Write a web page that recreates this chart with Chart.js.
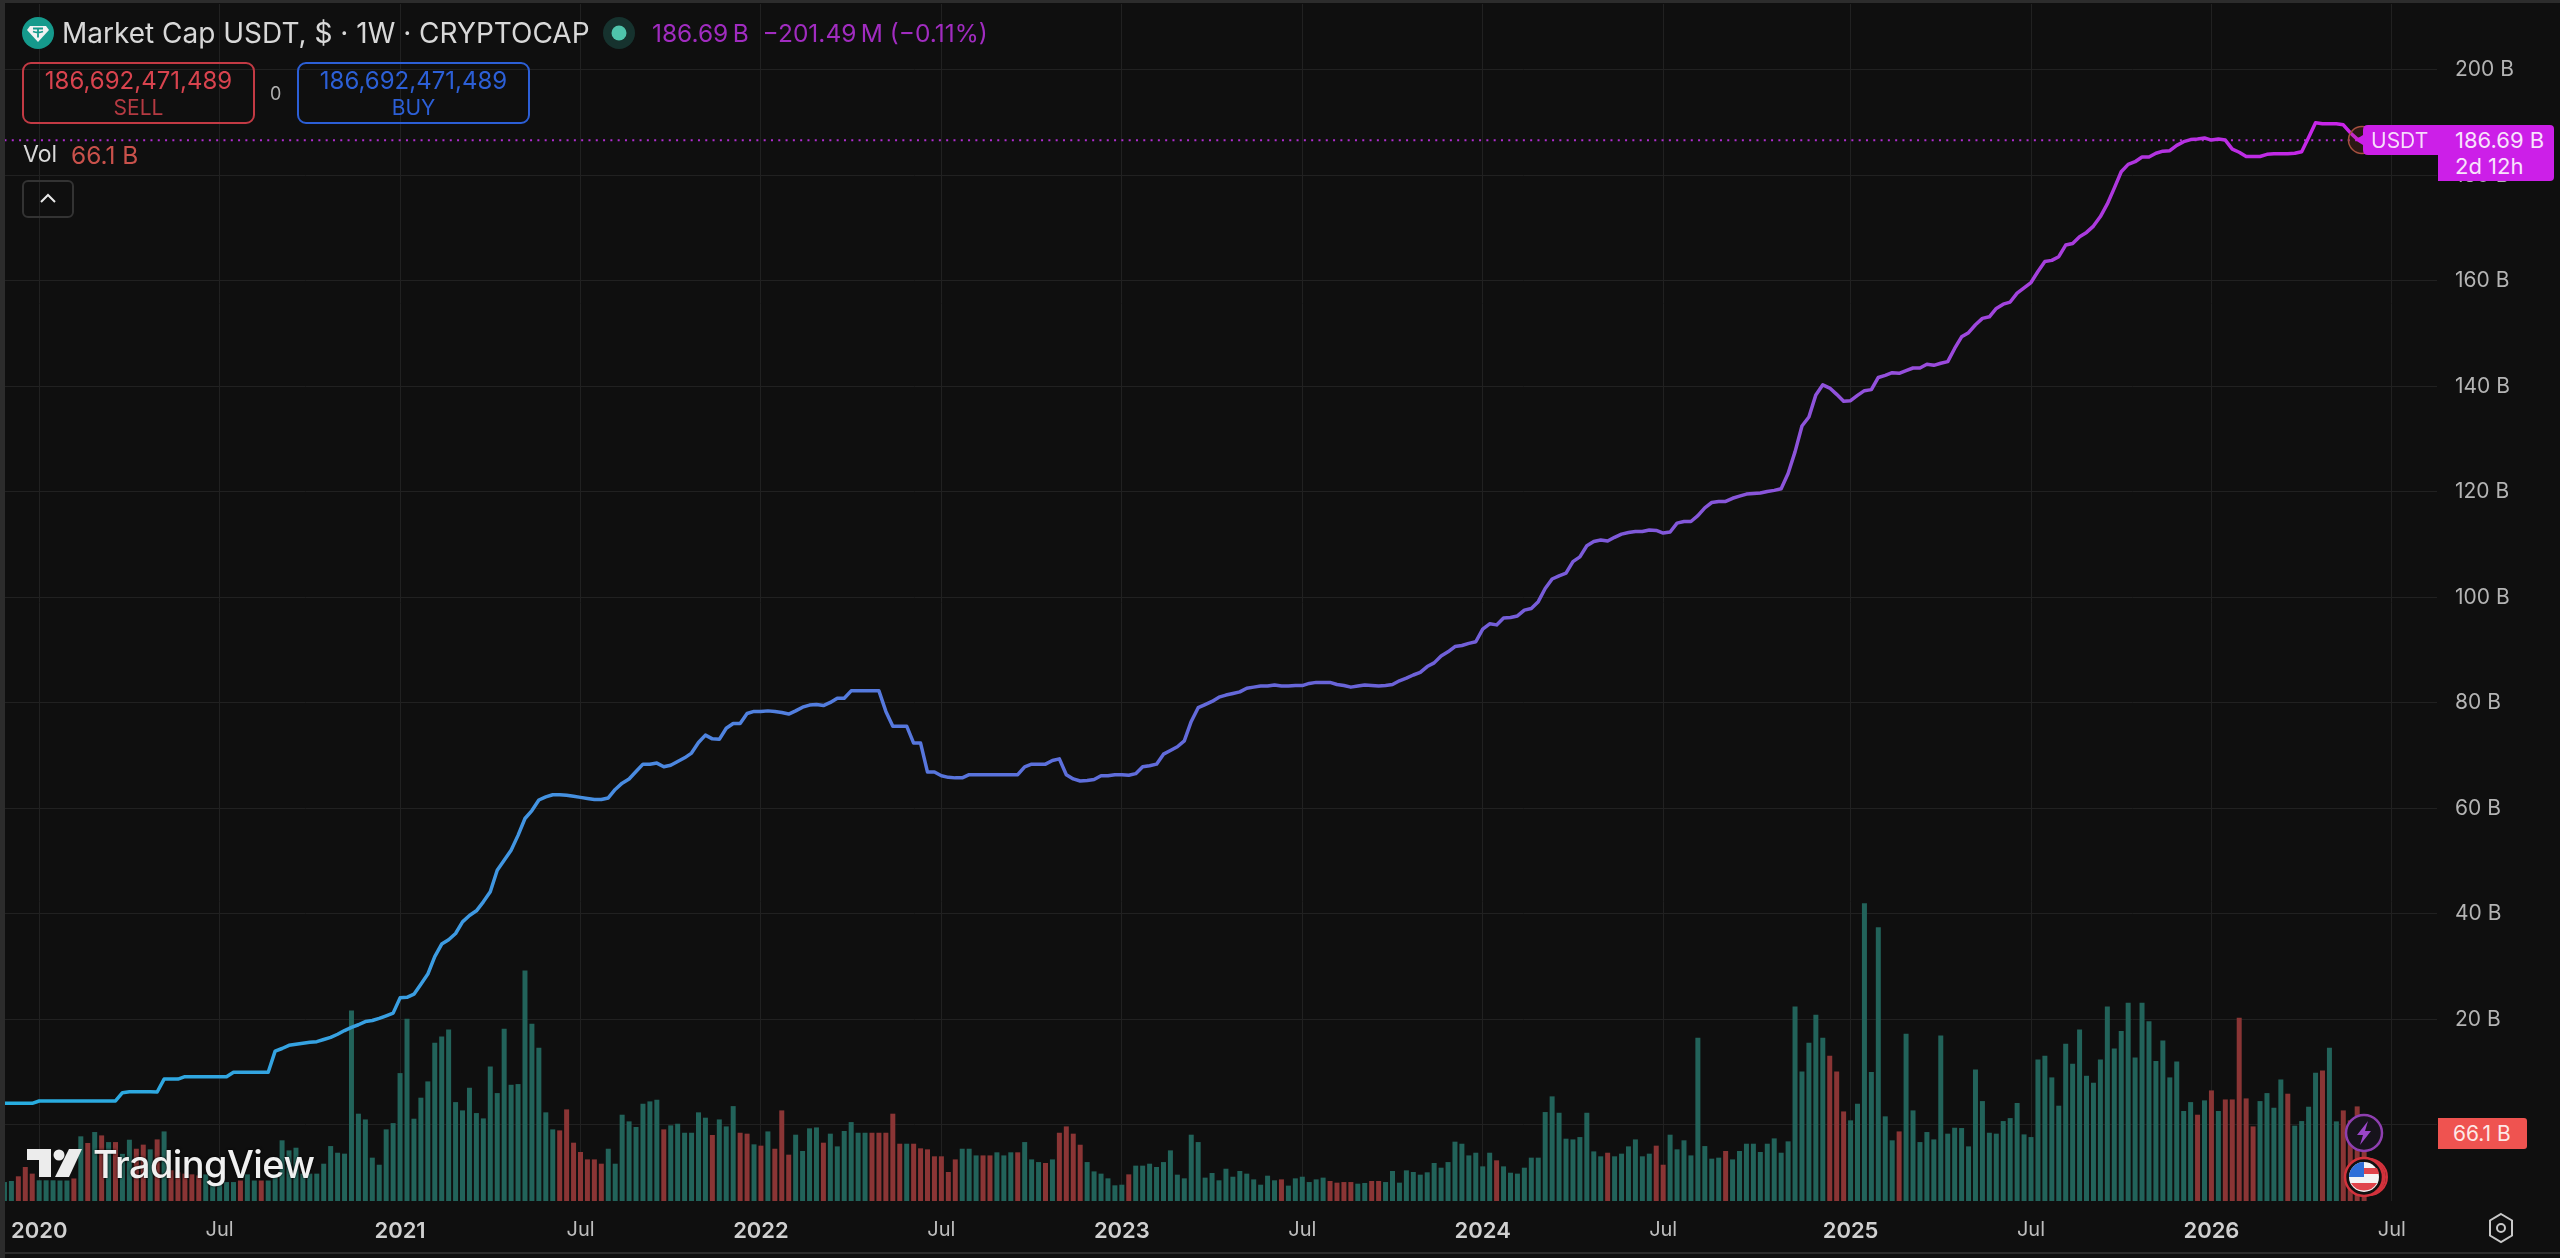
<!DOCTYPE html>
<html>
<head>
    <title>Market Cap USDT</title>
    <script src="https://cdn.jsdelivr.net/npm/chart.js"></script>
    <style>
        html, body { margin: 0; background: #0f0f0f; overflow: hidden; }
        #wrap { position: relative; width: 2560px; height: 1258px; font-family: Inter, sans-serif; }
        canvas { position: absolute; left: 0; top: 0; }
        .t { position: absolute; white-space: nowrap; line-height: 1; }
        .box { position: absolute; box-sizing: border-box; }
        svg { position: absolute; overflow: visible; }
    </style>
</head>
<body>
<div id="wrap">
    <canvas id="mainChart" width="2560" height="1258"></canvas>

    <div class="box" style="left:0;top:0;width:2560px;height:3px;background:#2c2c2c"></div>
    <div class="box" style="left:0;top:0;width:5px;height:1258px;background:#2c2c2c"></div>
    <div class="box" style="left:0;top:1252px;width:2560px;height:2px;background:#2c2c2c"></div>

    <!-- legend row -->
    <svg style="left:22px;top:17px" width="32" height="32" viewBox="0 0 32 32">
        <circle cx="16" cy="16" r="16" fill="#159a8c"/>
        <path d="M8 9h16l3 4-11 12L5 13z" fill="#f2f2f2"/>
        <path d="M11 11.5h10M16 11.5v9M11 14.5c3 1.2 7 1.2 10 0" stroke="#159a8c" stroke-width="1.8" fill="none"/>
    </svg>
    <div class="t" style="left:62px;top:19px;font-size:28px;color:#d8d8d8">Market Cap USDT, $ · 1W · CRYPTOCAP</div>
    <svg style="left:603px;top:17px" width="32" height="32">
        <circle cx="16" cy="16" r="16" fill="#16322e"/>
        <circle cx="16" cy="16" r="7.500" fill="#4fc4ab"/>
    </svg>
    <div class="t" style="left:652px;top:21px;font-size:24.500px;color:#a12cc0">186.69&#8201;B &nbsp;−201.49&#8201;M (−0.11%)</div>

    <!-- order buttons -->
    <div class="box" style="left:22px;top:62px;width:233px;height:62px;border:2px solid #c23a44;border-radius:9px"></div>
    <div class="t" style="left:22px;width:233px;text-align:center;top:69px;font-size:24px;color:#d8434e">186,692,471,489</div>
    <div class="t" style="left:22px;width:233px;text-align:center;top:97px;font-size:21px;color:#b53a42">SELL</div>
    <div class="t" style="left:270px;top:85px;font-size:18px;color:#b0b0b0">0</div>
    <div class="box" style="left:297px;top:62px;width:233px;height:62px;border:2px solid #2c5fd6;border-radius:9px"></div>
    <div class="t" style="left:297px;width:233px;text-align:center;top:69px;font-size:24px;color:#2c5fd6">186,692,471,489</div>
    <div class="t" style="left:297px;width:233px;text-align:center;top:97px;font-size:21px;color:#2c5fd6">BUY</div>

    <div class="t" style="left:23px;top:143px;font-size:23px;color:#d8d8d8">Vol</div>
    <div class="t" style="left:71px;top:143px;font-size:24.500px;color:#c9514b">66.1 B</div>
    <div class="box" style="left:22px;top:180px;width:52px;height:38px;border:2px solid #333;border-radius:6px"></div>
    <svg style="left:39px;top:192px" width="18" height="12"><path d="M2 10L9 3l7 7" stroke="#e8e8e8" stroke-width="2" fill="none"/></svg>

    <!-- watermark -->
    <svg style="left:27px;top:1149px" width="56" height="30" viewBox="0 0 56 30">
        <path d="M0 0h24v28H12V11H0z" fill="#ececec"/>
        <circle cx="32" cy="6" r="5.500" fill="#ececec"/>
        <path d="M42 0h13L42 28H28z" fill="#ececec"/>
    </svg>
    <div class="t" style="left:93px;top:1145px;font-size:38px;font-weight:500;letter-spacing:-.6px;color:#f0f0f0;text-shadow:0 0 3px #000">TradingView</div>

    <!-- last price tags -->
    <svg style="left:2345px;top:122px" width="36" height="36">
        <circle cx="17" cy="18" r="13.500" fill="rgba(180,70,50,.18)" stroke="#a5503f" stroke-width="1.500"/>
    </svg>
    <svg style="left:2354px;top:125px" width="84" height="30">
        <path d="M14 0h70v30H14q-5 0-5-5v-5L1 15l8-5V5q0-5 5-5z" fill="#cc1fe8"/>
    </svg>
    <div class="t" style="left:2371px;top:130px;font-size:21px;color:#f7dcfb">USDT</div>
    <div class="box" style="left:2438px;top:125px;width:116px;height:56px;background:#cc1fe8;border-radius:0 4px 4px 0"></div>
    <div class="t" style="left:2455px;top:129px;font-size:22px;color:#f9e3fc">186.69 B</div>
    <div class="t" style="left:2455px;top:155px;font-size:22px;color:#f9e3fc">2d 12h</div>

    <div class="box" style="left:2438px;top:1118px;width:89px;height:31px;background:#ef5350;border-radius:0 3px 3px 0"></div>
    <div class="t" style="left:2453px;top:1123px;font-size:21px;color:#fde8e7">66.1 B</div>

    <!-- event markers -->
    <svg style="left:2344px;top:1113px" width="40" height="40">
        <circle cx="20" cy="20" r="18" fill="#17131c" stroke="#8e3fb0" stroke-width="2.500"/>
        <path d="M24 8L13 22h6l-3 10 11-14h-6z" fill="#9a45c8"/>
    </svg>
    <svg style="left:2342px;top:1156px" width="48" height="42">
        <circle cx="27" cy="21" r="18" fill="none" stroke="#d3323c" stroke-width="2"/>
        <circle cx="25" cy="21" r="18" fill="none" stroke="#d3323c" stroke-width="2"/>
        <circle cx="22" cy="21" r="19" fill="#111" stroke="#d3323c" stroke-width="2.500"/>
        <circle cx="22" cy="21" r="15" fill="#f4f4f4"/>
        <path d="M9 27h26a15 15 0 0 1-26 0z" fill="#e0454c"/>
        <path d="M22 12h13a15 15 0 0 1 2 6H22z" fill="#e0454c"/>
        <path d="M22 6a15 15 0 0 0-15 15h15z" fill="#2f6fd8"/>
    </svg>

    <svg style="left:2487px;top:1212px" width="28" height="32" viewBox="0 0 28 32">
        <path d="M14 2l11 6.500L25 23.500 14 30 3 23.500 3 8.500z" fill="none" stroke="#c8c8c8" stroke-width="2"/>
        <circle cx="14" cy="16" r="4" fill="none" stroke="#c8c8c8" stroke-width="2"/>
    </svg>
</div>
<script>
    // weekly candles, first one opens 2 Dec 2019
    const firstWeek = '2019-12-02';
    const weekCount = 351;

    // market cap close, billions of USD
    const closes = [
        4.1,4.1,4.1,4.1,4.1,4.55,4.55,4.55,4.55,4.55,
        4.55,4.55,4.55,4.55,4.55,4.55,4.55,6.13,6.3,6.3,
        6.3,6.3,6.25,8.7,8.7,8.7,9.16,9.16,9.16,9.16,
        9.16,9.16,9.15,10,10,10,10,10,10,14,
        14.5,15.1,15.3,15.5,15.7,15.8,16.2,16.6,17.2,17.9,
        18.5,19,19.6,19.8,20.2,20.7,21.2,24.1,24.2,24.8,
        26.7,28.6,31.9,34.3,35.1,36.3,38.5,39.7,40.6,42.3,
        44.2,48.3,50.2,52.1,54.9,58.1,59.6,61.6,62.2,62.6,
        62.6,62.5,62.3,62.1,61.9,61.7,61.7,62,63.6,64.8,
        65.6,67,68.4,68.4,68.6,67.9,68.2,68.9,69.6,70.5,
        72.5,73.9,73.2,73.1,75.2,76.1,76.1,78,78.4,78.4,
        78.5,78.4,78.2,77.9,78.5,79.2,79.6,79.7,79.5,80.1,
        80.9,80.9,82.3,82.3,82.3,82.3,82.3,78.4,75.6,75.6,
        75.6,72.4,72.4,66.9,66.9,66.2,65.9,65.8,65.8,66.4,
        66.4,66.4,66.4,66.4,66.4,66.4,66.4,67.9,68.4,68.4,
        68.4,69.1,69.4,66.4,65.6,65.2,65.3,65.5,66.2,66.2,
        66.4,66.4,66.3,66.6,67.9,68.1,68.4,70.3,71,71.7,
        72.8,76.5,79.1,79.7,80.3,81.1,81.5,81.8,82.1,82.8,
        83,83.2,83.2,83.4,83.2,83.2,83.3,83.3,83.7,83.9,
        83.9,83.9,83.5,83.3,83,83.2,83.4,83.3,83.2,83.3,
        83.5,84.2,84.7,85.3,85.8,86.9,87.6,88.9,89.7,90.7,
        90.9,91.3,91.6,94,95,94.8,96.1,96.2,96.5,97.6,
        97.9,99.2,101.7,103.5,104.1,104.6,106.8,107.7,109.8,110.6,
        110.9,110.7,111.4,112,112.3,112.5,112.5,112.8,112.7,112.2,
        112.4,114.1,114.4,114.4,115.5,117,118,118.2,118.2,118.8,
        119.2,119.6,119.7,119.8,120.1,120.3,120.6,123.5,127.6,132.5,
        134.2,138.4,140.3,139.7,138.5,137.2,137.3,138.3,139.2,139.4,
        141.7,142.1,142.6,142.5,143,143.5,143.5,144.2,144,144.4,
        144.7,147.2,149.4,150.2,151.7,152.9,153.2,154.8,155.6,156,
        157.7,158.7,159.7,161.8,163.7,163.9,164.6,166.8,167.1,168.4,
        169.2,170.4,172.2,174.6,177.6,180.7,182.1,182.6,183.5,183.5,
        184.2,184.6,184.7,185.7,186.4,186.8,186.9,187.1,186.7,186.9,
        186.7,185,184.4,183.6,183.6,183.6,184,184.1,184.1,184.1,
        184.2,184.5,187.2,190,189.8,189.8,189.8,189.6,188.1,186.89,
        186.69
    ];

    // traded volume, billions of USD
    const volumes = [
        18.5,19.5,24.1,33.2,26.7,20.2,20.2,20.2,20,20,
        22,63.1,56.6,67.3,64,57.5,57.5,46,59.8,51,
        55,50.4,60.1,67.9,30,28,26.7,26,25,26,
        17,17,18.5,18.5,20,26,20,20,20,26,
        59.2,49.4,52,26.7,26.7,26.7,36.4,53.6,47.1,46.2,
        185.9,85.2,79.6,42.3,35.4,69.9,76,124.8,177.8,80.3,
        100.8,116.7,154.4,160.6,167.4,96.5,88.4,110.5,85.8,80.6,
        131.3,105.3,168,113.4,114.1,224.9,172.9,149.5,86.5,69.9,
        68.9,89.4,56.9,47.8,40.6,40.6,36.4,51,36.4,84.2,
        77.7,72.2,94.9,97.2,98.8,69.9,73.8,75.4,66.6,66.6,
        86.5,81.3,64.4,79.6,72.8,92.6,66.6,65.7,55.3,54,
        67.9,51,88.4,45.2,64.7,48.8,70.9,71.8,56.9,65.7,
        53.3,68.3,77,66.6,66.6,66.6,66.6,66.6,85.2,55.9,
        55.9,55.9,51.4,50.4,43.6,43.6,28.3,40.6,51,51,
        44.5,44.5,44.5,47.5,44.5,47.5,47.5,57.5,40.6,38,
        37.1,40.6,66.6,72.8,65.7,54.9,38,28.9,26.7,22.1,
        15.3,15.9,26,34.5,34.5,36.4,33.2,38,49.4,25.7,
        22.1,64.7,57.5,22.8,27.3,20.2,31.5,23.7,29.3,26.7,
        21.1,15.9,24.7,20.2,21.1,15,22.1,23.7,18.5,21.1,
        22.8,19.5,17.9,18.5,18.5,16.9,17.6,19.5,19.5,18.5,
        29.3,17.9,29.9,28.3,25.7,28,37.1,32.5,38,57.9,
        55.9,44.5,47.1,33.8,47.1,39.7,33.8,27.6,26.7,32.5,
        42.3,42.3,86.8,102.1,86.1,60.8,60.1,62.4,86.1,48.4,
        43.6,47.1,43.6,46.2,53.3,60.1,43.6,46.2,54,35.4,
        64.7,50.4,59.2,44.5,159.3,53.6,41.3,42.3,48.8,40.6,
        48.8,55.9,55.9,47.8,55.9,61.1,47.1,58.2,189.8,126.4,
        154.4,181.7,159.3,141.7,126.4,87.4,78.7,94.9,290.6,125.8,
        267.2,82.6,59.2,67.9,163.2,88.4,57.5,67.3,60.1,161.5,
        65.7,71.5,71.2,53.3,128.4,97.5,66.6,65.7,78,80.9,
        95.6,65,62.4,138.1,141.7,120.6,93,153.4,133.9,167.4,
        122.2,115.4,138.1,189.8,148.9,165.8,193.4,140.1,193.4,175.5,
        136.5,156.7,120.6,136.2,87.8,96.5,84.2,98.2,107.9,87.8,
        99.1,99.1,178.8,100.1,72.8,97.5,105.3,91,118.6,104.7,
        73.5,78,92,125.1,127.4,149.5,77.7,88.4,78.7,92.3,
        66.1
    ];

    // weeks that printed a red volume bar
    const downWeeks = [
        2,3,4,10,12,14,16,19,20,22,24,25,26,27,28,34,37,
        80,81,82,83,84,85,86,95,102,106,107,109,111,112,113,118,
        125,126,127,128,129,131,132,133,134,135,136,137,141,142,146,150,
        152,153,154,155,162,184,191,192,193,194,197,198,215,231,238,239,248,
        263,264,265,273,316,318,320,321,322,323,324,329,334,337,338,339,340
    ];

    const priceTicks = [0, 20, 40, 60, 80, 100, 120, 140, 160, 180, 200];
    const lastClose = closes[closes.length - 1];

    const weeks = [];
    for (let i = 0; i < weekCount; i++) {
        const d = new Date(firstWeek + 'T00:00:00Z');
        d.setUTCDate(d.getUTCDate() + i * 7);
        weeks.push(d);
    }

    // first week of January gets the year, first week of July gets "Jul"
    function weekLabel(d) {
        if (d.getUTCDate() > 7) return '';
        if (d.getUTCMonth() === 0) return String(d.getUTCFullYear());
        if (d.getUTCMonth() === 6) return 'Jul';
        return '';
    }

    let lineGradient = null;
    function lineColor(ctx) {
        const area = ctx.chart.chartArea;
        if (!area) return '#5b6fe0';
        if (!lineGradient) {
            lineGradient = ctx.chart.ctx.createLinearGradient(area.left, 0, area.left + 2365, 0);
            lineGradient.addColorStop(0, '#27aee0');
            lineGradient.addColorStop(0.17, '#3a9fe2');
            lineGradient.addColorStop(0.3, '#4f84e0');
            lineGradient.addColorStop(0.42, '#5a72dc');
            lineGradient.addColorStop(0.59, '#6c62d8');
            lineGradient.addColorStop(0.8, '#9550dc');
            lineGradient.addColorStop(0.89, '#ad38de');
            lineGradient.addColorStop(1, '#cc22ea');
        }
        return lineGradient;
    }

    // the plot runs right up to the axes, no room reserved for half a tick label
    function noPadding(scale) {
        scale.paddingLeft = 0;
        scale.paddingRight = 0;
        scale.paddingTop = 0;
        scale.paddingBottom = 0;
    }

    const gridColor = '#212121';

    const ctx = document.getElementById('mainChart').getContext('2d');
    new Chart(ctx, {
        data: {
            labels: weeks.map(weekLabel),
            datasets: [
                {
                    type: 'line',
                    label: 'Market Cap USDT',
                    data: closes,
                    yAxisID: 'y',
                    borderColor: lineColor,
                    borderWidth: 3.5,
                    pointRadius: 0,
                    tension: 0,
                    borderJoinStyle: 'round',
                    order: 1
                },
                {
                    type: 'line',
                    label: 'Last',
                    data: closes.map(() => lastClose),
                    yAxisID: 'y',
                    borderColor: '#b02cd0',
                    borderWidth: 2,
                    borderDash: [2, 5.3],
                    pointRadius: 0,
                    order: 2
                },
                {
                    type: 'bar',
                    label: 'Vol',
                    data: volumes,
                    yAxisID: 'yVol',
                    backgroundColor: volumes.map((v, i) => downWeeks.includes(i) ? '#8a3535' : '#22635a'),
                    barPercentage: 0.72,
                    categoryPercentage: 1,
                    order: 3
                }
            ]
        },
        options: {
            responsive: false,
            animation: false,
            events: [],
            layout: { padding: { left: 1, top: 4 } },
            plugins: { legend: { display: false }, tooltip: { enabled: false } },
            scales: {
                x: {
                    offset: true,
                    afterFit: scale => { scale.height = 57; noPadding(scale); },
                    border: { display: false },
                    grid: {
                        offset: false,
                        drawTicks: false,
                        color: c => (c.tick && c.tick.label) ? gridColor : 'rgba(0,0,0,0)'
                    },
                    ticks: {
                        autoSkip: false,
                        maxRotation: 0,
                        padding: 17,
                        color: c => (c.tick && c.tick.label === 'Jul') ? '#bdbdbd' : '#d0d0d0',
                        font: c => ({
                            family: 'Inter',
                            size: (c.tick && c.tick.label === 'Jul') ? 20 : 22,
                            weight: (c.tick && c.tick.label === 'Jul') ? 'normal' : '600'
                        })
                    }
                },
                y: {
                    position: 'right',
                    min: -14.41,
                    max: 212.5,
                    afterFit: scale => { scale.width = 123; noPadding(scale); },
                    afterBuildTicks: scale => { scale.ticks = priceTicks.map(v => ({ value: v })); },
                    border: { display: false },
                    grid: { color: gridColor, drawTicks: false },
                    ticks: {
                        padding: 18,
                        color: '#b4b4b4',
                        font: { family: 'Inter', size: 21 },
                        // the zero line sits behind the volume tag
                        callback: v => v === 0 ? '' : v + ' B'
                    }
                },
                yVol: {
                    display: false,
                    min: 0,
                    max: 1168
                }
            }
        }
    });
</script>
</body>
</html>
